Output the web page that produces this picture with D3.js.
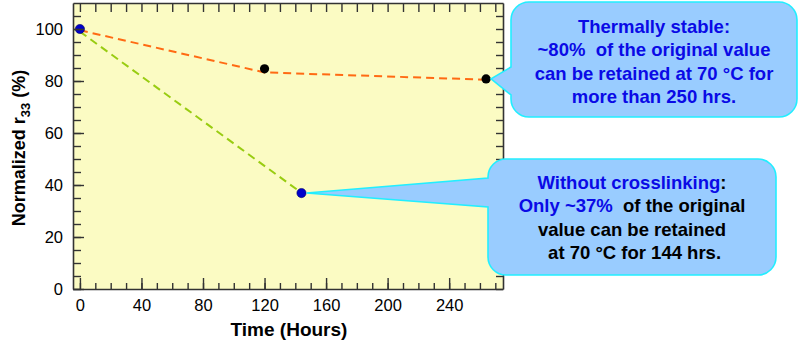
<!DOCTYPE html>
<html>
<head>
<meta charset="utf-8">
<script src="https://cdn.jsdelivr.net/npm/d3@7"></script>
<style>
  body { margin: 0; background: #fff; }
  text { font-family: "Liberation Sans", Arial, sans-serif; }
</style>
</head>
<body>
<script>
// measured points (time in hours, normalized r33 in %)
var crosslinked = [[120, 84.7], [264, 80.8]];
var uncrosslinked = [[0, 100], [144, 36.9]];
// dashed guide curves drawn through the data
var crosslinkedFit = [[0, 99.5], [120, 83.3], [264, 80.5]];
var uncrosslinkedFit = [[0, 99], [144, 37]];

var xMajor = [0, 40, 80, 120, 160, 200, 240];
var xMinor = d3.range(0, 271, 10);
var yMajor = [0, 20, 40, 60, 80, 100];
var yMinor = d3.range(0, 110, 5);

(function() {
    var w = 799,
        h = 340;
    var left = 73, right = 503, top = 3, bottom = 289;

    var svg = d3.select('body')
        .append('svg')
        .attr('width', w)
        .attr('height', h);

    var x = d3.scaleLinear().domain([-4.5, 275]).range([left, right]);
    var y = d3.scaleLinear().domain([0, 110]).range([bottom, top]);

    // plot background
    svg.append('rect')
        .attr('x', left).attr('y', top)
        .attr('width', right - left).attr('height', bottom - top)
        .attr('fill', '#fbfbc3');

    var line = d3.line()
        .x(function(d) { return x(d[0]); })
        .y(function(d) { return y(d[1]); });

    svg.append('path')
        .datum(crosslinkedFit)
        .attr('d', line)
        .attr('fill', 'none')
        .attr('stroke', '#ff6a13')
        .attr('stroke-width', 2)
        .attr('stroke-dasharray', '8,5');

    svg.append('path')
        .datum(uncrosslinkedFit)
        .attr('d', line)
        .attr('fill', 'none')
        .attr('stroke', '#99cc11')
        .attr('stroke-width', 2)
        .attr('stroke-dasharray', '8,5');

    svg.selectAll('.dot-black')
        .data(crosslinked)
        .enter().append('circle')
        .attr('cx', function(d) { return x(d[0]); })
        .attr('cy', function(d) { return y(d[1]); })
        .attr('r', 4.6)
        .attr('fill', '#000');

    svg.selectAll('.dot-blue')
        .data(uncrosslinked)
        .enter().append('circle')
        .attr('cx', function(d) { return x(d[0]); })
        .attr('cy', function(d) { return y(d[1]); })
        .attr('r', 4.6)
        .attr('fill', '#0000cc')
        .attr('stroke', '#000066')
        .attr('stroke-width', 0.6);

    // axes: ticks point inwards on all four sides
    function styleAxis(g) {
        g.selectAll('path.domain').attr('stroke', '#333').attr('stroke-width', 1.6);
        g.selectAll('.tick line').attr('stroke', '#333').attr('stroke-width', 1.4);
        g.selectAll('.tick text')
            .attr('fill', '#000')
            .style('font-family', '"Liberation Sans", Arial, sans-serif')
            .style('font-size', '16.5px');
    }

    svg.append('g')
        .attr('transform', 'translate(0,' + bottom + ')')
        .call(d3.axisBottom(x).tickValues(xMinor).tickSize(-6).tickFormat(''))
        .call(function(g) { g.select('.domain').remove(); })
        .call(styleAxis);
    svg.append('g')
        .attr('transform', 'translate(0,' + bottom + ')')
        .call(d3.axisBottom(x).tickValues(xMajor).tickSize(-11).tickSizeOuter(0).tickPadding(10))
        .call(styleAxis);

    svg.append('g')
        .attr('transform', 'translate(0,' + top + ')')
        .call(d3.axisTop(x).tickValues(xMinor).tickSize(-9).tickSizeOuter(0).tickFormat(''))
        .call(styleAxis);

    svg.append('g')
        .attr('transform', 'translate(' + left + ',0)')
        .call(d3.axisLeft(y).tickValues(yMinor).tickSize(-8).tickFormat(''))
        .call(function(g) { g.select('.domain').remove(); })
        .call(styleAxis);
    svg.append('g')
        .attr('transform', 'translate(' + left + ',0)')
        .call(d3.axisLeft(y).tickValues(yMajor).tickSize(-11).tickSizeOuter(0).tickPadding(10))
        .call(styleAxis);

    svg.append('g')
        .attr('transform', 'translate(' + right + ',0)')
        .call(d3.axisRight(y).tickValues(yMinor).tickSize(-7).tickSizeOuter(0).tickFormat(''))
        .call(styleAxis);

    // axis titles
    svg.append('text')
        .attr('x', (left + right) / 2 + 1)
        .attr('y', 336)
        .attr('text-anchor', 'middle')
        .style('font-size', '19px')
        .style('font-weight', 'bold')
        .text('Time (Hours)');

    var yt = svg.append('text')
        .attr('transform', 'translate(25,' + ((top + bottom) / 2 + 2) + ') rotate(-90)')
        .attr('text-anchor', 'middle')
        .style('font-size', '18px')
        .style('font-weight', 'bold');
    yt.append('tspan').text('Normalized r');
    yt.append('tspan').attr('dy', 5).style('font-size', '13px').text('33');
    yt.append('tspan').attr('dy', -5).text(' (%)');

    // callouts: rounded box with a wedge pointing at a data point
    function callout(box, tip, p0, p1) {
        var x0 = box[0], y0 = box[1], x1 = box[2], y1 = box[3], r = 18;
        var d = 'M' + (x0 + r) + ',' + y0 +
            'H' + (x1 - r) + 'A' + r + ',' + r + ' 0 0 1 ' + x1 + ',' + (y0 + r) +
            'V' + (y1 - r) + 'A' + r + ',' + r + ' 0 0 1 ' + (x1 - r) + ',' + y1 +
            'H' + (x0 + r) + 'A' + r + ',' + r + ' 0 0 1 ' + x0 + ',' + (y1 - r) +
            'V' + p1 + 'L' + tip[0] + ',' + tip[1] + 'L' + x0 + ',' + p0 +
            'V' + (y0 + r) + 'A' + r + ',' + r + ' 0 0 1 ' + (x0 + r) + ',' + y0 + 'Z';
        svg.append('path')
            .attr('d', d)
            .attr('fill', '#99ccff')
            .attr('stroke', '#22eeff')
            .attr('stroke-width', 1.6);
    }

    function lines(cx, y0, rows) {
        var t = svg.append('text')
            .attr('text-anchor', 'middle')
            .style('font-size', '18.5px')
            .style('font-weight', 'bold');
        rows.forEach(function(row, i) {
            var first = true;
            row.forEach(function(part) {
                var s = t.append('tspan').attr('fill', part[1]).text(part[0]);
                if (first) { s.attr('x', cx).attr('y', y0 + i * 23.3); first = false; }
            });
        });
    }

    var pTop = crosslinked[1];
    callout([511, 2, 797, 117], [x(pTop[0]) + 5, y(pTop[1])], 67, 95);
    var blue = '#0a0ae6';
    lines(654, 33, [
        [['Thermally stable:', blue]],
        [['~80%\u00a0 of the original value', blue]],
        [['can be retained at 70 \u00b0C for', blue]],
        [['more than 250 hrs.', blue]]
    ]);

    var pBot = uncrosslinked[1];
    callout([488, 159, 776, 275], [x(pBot[0]) + 5, y(pBot[1])], 178, 207);
    lines(632, 189, [
        [['Without crosslinking', blue], [':', '#000']],
        [['Only ~37%', blue], ['\u00a0 of the original', '#000']],
        [['value can be retained', '#000']],
        [['\u00a0at 70 \u00b0C for 144 hrs.', '#000']]
    ]);
})();
</script>
</body>
</html>
